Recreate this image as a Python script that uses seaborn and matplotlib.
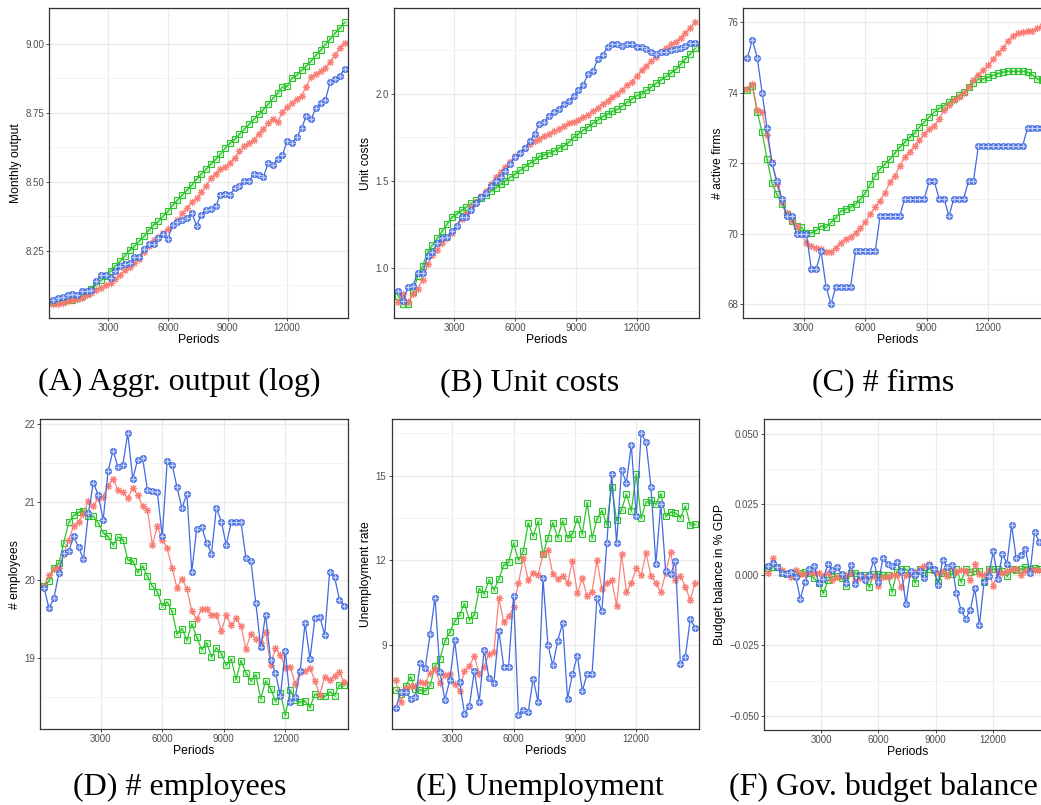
import matplotlib
matplotlib.use("Agg")
import matplotlib.pyplot as plt
import seaborn as sns
from matplotlib.ticker import FixedLocator, MultipleLocator, FuncFormatter

# simulation periods at which the averages were recorded
periods = list(range(240, 14881, 240))

# (A) aggregate output (log)
output_blue = [8.071, 8.077, 8.083, 8.089, 8.093, 8.090, 8.105, 8.105, 8.107, 8.141,
               8.161, 8.161, 8.151, 8.177, 8.195, 8.203, 8.204, 8.227, 8.227, 8.255,
               8.273, 8.273, 8.297, 8.309, 8.293, 8.345, 8.353, 8.361, 8.369, 8.387,
               8.341, 8.381, 8.399, 8.403, 8.411, 8.453, 8.456, 8.453, 8.477, 8.483,
               8.501, 8.501, 8.529, 8.523, 8.517, 8.567, 8.561, 8.582, 8.597, 8.649,
               8.639, 8.663, 8.694, 8.739, 8.726, 8.768, 8.786, 8.798, 8.862, 8.874,
               8.882, 8.910]
output_red = [8.056, 8.058, 8.062, 8.066, 8.070, 8.074, 8.080, 8.088, 8.097, 8.108,
              8.116, 8.124, 8.132, 8.146, 8.162, 8.180, 8.192, 8.204, 8.220, 8.245,
              8.268, 8.288, 8.300, 8.314, 8.327, 8.342, 8.360, 8.385, 8.405, 8.425,
              8.440, 8.462, 8.485, 8.512, 8.530, 8.545, 8.552, 8.568, 8.588, 8.610,
              8.630, 8.640, 8.650, 8.675, 8.692, 8.712, 8.728, 8.718, 8.752, 8.772,
              8.785, 8.800, 8.812, 8.845, 8.880, 8.892, 8.900, 8.912, 8.935, 8.960,
              8.985, 9.005]
output_green = [8.065, 8.066, 8.068, 8.070, 8.073, 8.078, 8.087, 8.098, 8.112, 8.127,
                8.142, 8.160, 8.178, 8.195, 8.212, 8.232, 8.254, 8.266, 8.285, 8.302,
                8.325, 8.345, 8.356, 8.375, 8.393, 8.415, 8.433, 8.452, 8.470, 8.488,
                8.510, 8.528, 8.545, 8.565, 8.582, 8.600, 8.622, 8.640, 8.656, 8.672,
                8.690, 8.708, 8.726, 8.744, 8.762, 8.782, 8.802, 8.822, 8.844, 8.846,
                8.877, 8.888, 8.905, 8.920, 8.938, 8.958, 8.978, 8.998, 9.018, 9.038,
                9.058, 9.078]

# (B) unit costs
costs_blue = [0.868, 0.811, 0.887, 0.896, 0.972, 0.972, 1.066, 1.089, 1.142, 1.170,
              1.179, 1.208, 1.242, 1.289, 1.292, 1.334, 1.374, 1.406, 1.430, 1.468,
              1.500, 1.523, 1.557, 1.594, 1.638, 1.660, 1.689, 1.726, 1.770, 1.826,
              1.840, 1.874, 1.896, 1.915, 1.943, 1.957, 1.987, 2.019, 2.051, 2.113,
              2.132, 2.198, 2.221, 2.268, 2.287, 2.283, 2.277, 2.283, 2.283, 2.268,
              2.270, 2.255, 2.240, 2.226, 2.242, 2.240, 2.249, 2.255, 2.264, 2.274,
              2.292, 2.289]
costs_red = [0.80, 0.85, 0.80, 0.85, 0.88, 0.93, 1.02, 1.07, 1.10, 1.14,
             1.17, 1.20, 1.24, 1.28, 1.31, 1.35, 1.38, 1.41, 1.44, 1.48,
             1.52, 1.55, 1.58, 1.61, 1.64, 1.66, 1.69, 1.71, 1.73, 1.74,
             1.755, 1.77, 1.785, 1.80, 1.815, 1.83, 1.84, 1.85, 1.865, 1.88,
             1.90, 1.92, 1.94, 1.96, 1.98, 2.00, 2.02, 2.05, 2.07, 2.10,
             2.135, 2.16, 2.19, 2.21, 2.24, 2.26, 2.285, 2.30, 2.32, 2.35,
             2.38, 2.41]
costs_green = [0.84, 0.79, 0.79, 0.86, 0.95, 1.01, 1.09, 1.13, 1.17, 1.21,
               1.25, 1.29, 1.31, 1.33, 1.35, 1.37, 1.39, 1.40, 1.42, 1.44,
               1.46, 1.48, 1.50, 1.52, 1.54, 1.56, 1.58, 1.60, 1.62, 1.64,
               1.65, 1.66, 1.67, 1.69, 1.70, 1.72, 1.75, 1.77, 1.79, 1.81,
               1.83, 1.85, 1.87, 1.885, 1.90, 1.91, 1.93, 1.95, 1.97, 1.99,
               2.00, 2.02, 2.04, 2.06, 2.08, 2.10, 2.12, 2.14, 2.17, 2.20,
               2.23, 2.26]

# (C) number of active firms
firms_blue = [75.0, 75.5, 75.0, 74.0, 73.0, 72.0, 71.5, 71.0, 70.5, 70.5,
              70.0, 70.0, 70.0, 69.0, 69.0, 69.5, 68.5, 68.0, 68.5, 68.5,
              68.5, 68.5, 69.5, 69.5, 69.5, 69.5, 69.5, 70.5, 70.5, 70.5,
              70.5, 70.5, 71.0, 71.0, 71.0, 71.0, 71.0, 71.5, 71.5, 71.0,
              71.0, 70.5, 71.0, 71.0, 71.0, 71.5, 71.5, 72.5, 72.5, 72.5,
              72.5, 72.5, 72.5, 72.5, 72.5, 72.5, 72.5, 73.0, 73.0, 73.0,
              73.0, 73.0]
firms_red = [74.12, 74.26, 73.50, 73.45, 72.79, 72.03, 71.41, 70.91, 70.60, 70.37,
             70.22, 69.98, 69.75, 69.65, 69.60, 69.56, 69.49, 69.49, 69.60, 69.75,
             69.84, 69.92, 70.03, 70.15, 70.34, 70.56, 70.75, 70.94, 71.17, 71.46,
             71.65, 71.93, 72.17, 72.31, 72.50, 72.65, 72.84, 72.96, 73.07, 73.26,
             73.50, 73.66, 73.79, 73.88, 74.00, 74.17, 74.36, 74.52, 74.64, 74.78,
             74.95, 75.14, 75.26, 75.47, 75.61, 75.69, 75.73, 75.75, 75.76, 75.83,
             75.90, 76.00]
firms_green = [74.07, 74.20, 73.45, 72.88, 72.12, 71.44, 71.12, 70.84, 70.56, 70.37,
               70.22, 70.18, 70.03, 70.03, 70.10, 70.22, 70.18, 70.32, 70.46, 70.65,
               70.70, 70.77, 70.85, 70.98, 71.17, 71.41, 71.65, 71.84, 71.98, 72.12,
               72.29, 72.46, 72.60, 72.74, 72.86, 73.03, 73.17, 73.31, 73.45, 73.57,
               73.64, 73.74, 73.83, 73.93, 74.02, 74.17, 74.28, 74.40, 74.40, 74.45,
               74.50, 74.55, 74.59, 74.61, 74.61, 74.61, 74.61, 74.59, 74.50, 74.40,
               74.36, 74.35]

# (D) employees per firm
employees_blue = [19.90, 19.64, 19.77, 20.09, 20.35, 20.37, 20.56, 20.42, 20.27, 20.86,
                  21.25, 21.09, 20.77, 21.40, 21.66, 21.45, 21.48, 21.88, 21.30, 21.54,
                  21.57, 21.15, 21.14, 21.13, 20.56, 21.52, 21.48, 21.19, 20.92, 21.11,
                  20.11, 20.66, 20.68, 20.48, 20.34, 20.93, 20.75, 20.45, 20.74, 20.74,
                  20.74, 20.28, 20.25, 19.71, 19.14, 19.56, 18.98, 18.81, 18.52, 19.09,
                  18.44, 18.50, 18.83, 19.45, 18.99, 19.51, 19.53, 19.30, 20.10, 20.04,
                  19.75, 19.67]
employees_red = [19.93, 20.06, 20.14, 20.15, 20.34, 20.52, 20.69, 20.75, 20.85, 21.02,
                 20.95, 21.05, 21.07, 21.21, 21.30, 21.15, 21.13, 21.05, 21.18, 21.09,
                 20.95, 20.90, 20.45, 20.69, 20.52, 20.41, 20.15, 19.90, 20.02, 19.89,
                 19.61, 19.50, 19.63, 19.63, 19.55, 19.56, 19.35, 19.55, 19.42, 19.51,
                 19.41, 19.12, 19.31, 19.25, 19.20, 19.33, 18.91, 19.13, 19.04, 18.88,
                 18.89, 18.67, 18.82, 18.84, 18.88, 18.71, 18.53, 18.76, 18.72, 18.77,
                 18.82, 18.69]
employees_green = [19.93, 19.99, 20.15, 20.22, 20.48, 20.74, 20.83, 20.87, 20.89, 20.82,
                   20.82, 20.73, 20.61, 20.56, 20.45, 20.55, 20.52, 20.26, 20.25, 20.10,
                   20.18, 20.05, 19.92, 19.85, 19.67, 19.72, 19.60, 19.31, 19.38, 19.23,
                   19.44, 19.27, 19.11, 19.20, 19.02, 19.13, 19.06, 18.91, 18.99, 18.73,
                   18.97, 18.81, 18.71, 18.79, 18.48, 18.71, 18.61, 18.45, 18.56, 18.27,
                   18.59, 18.46, 18.44, 18.45, 18.37, 18.54, 18.51, 18.51, 18.57, 18.52,
                   18.66, 18.66]

# (E) unemployment rate
unemp_blue = [6.74, 7.32, 7.32, 7.08, 7.15, 8.33, 8.18, 9.38, 10.67, 8.02,
              7.04, 7.73, 9.15, 7.68, 6.55, 6.82, 8.06, 6.96, 8.82, 7.80,
              7.65, 9.49, 8.21, 8.21, 10.74, 6.49, 6.68, 6.62, 7.79, 6.96,
              11.35, 9.00, 8.26, 9.14, 9.76, 7.08, 7.94, 8.61, 7.35, 7.96,
              7.96, 10.65, 10.18, 12.59, 15.05, 12.60, 15.20, 14.75, 16.10, 13.55,
              16.50, 16.20, 14.60, 11.85, 14.00, 11.60, 11.50, 11.95, 8.30, 8.55,
              9.90, 9.60]
unemp_red = [7.74, 6.96, 7.44, 7.51, 7.53, 7.67, 7.62, 8.00, 8.12, 7.65,
             7.92, 7.94, 7.59, 7.35, 8.06, 8.24, 8.59, 7.96, 8.21, 8.65,
             8.74, 10.65, 9.80, 10.00, 10.32, 11.18, 12.08, 11.29, 11.55, 11.47,
             12.21, 12.35, 11.50, 11.33, 11.45, 11.18, 11.96, 10.82, 11.35, 10.71,
             10.88, 12.00, 10.98, 11.20, 11.29, 10.38, 12.21, 10.88, 11.18, 11.71,
             11.47, 12.24, 11.45, 11.20, 10.85, 11.55, 12.29, 11.29, 11.45, 11.06,
             10.59, 11.18]
unemp_green = [7.39, 7.24, 7.51, 7.86, 7.41, 7.39, 7.35, 7.55, 8.24, 8.49,
               9.12, 9.44, 9.82, 10.06, 10.45, 9.88, 10.06, 10.98, 10.80, 11.29,
               10.94, 11.33, 11.82, 11.94, 12.59, 12.00, 12.32, 13.32, 12.86, 13.38,
               12.20, 12.79, 13.33, 12.79, 13.39, 12.79, 12.94, 13.47, 12.94, 14.04,
               12.79, 13.45, 13.76, 13.27, 14.61, 13.41, 13.79, 14.33, 13.76, 15.04,
               13.49, 14.06, 14.12, 13.98, 14.35, 13.55, 13.71, 13.67, 13.51, 13.91,
               13.26, 13.27]

# (F) government budget balance in % of GDP
budget_blue = [0.0030, 0.0043, 0.0028, 0.0005, 0.0002, 0.0011, -0.0007, -0.0085, -0.0026, 0.0019,
               0.0031, -0.0028, -0.0014, 0.0038, 0.0017, 0.0026, 0.0002, -0.0028, 0.0035, -0.0031,
               0.0000, -0.0020, 0.0000, 0.0051, -0.0027, 0.0058, 0.0039, 0.0031, 0.0044, 0.0014,
               -0.0105, 0.0012, 0.0000, 0.0012, -0.0013, 0.0033, 0.0019, -0.0035, 0.0054, 0.0028,
               0.0034, -0.0064, -0.0125, -0.0155, -0.0125, -0.0048, -0.0178, -0.0025, -0.0004, 0.0083,
               -0.0014, 0.0073, 0.0040, 0.0176, 0.0058, 0.0069, 0.0093, 0.0007, 0.0151, 0.0117,
               0.0095, 0.0088]
budget_red = [0.0005, 0.0058, 0.0028, 0.0017, 0.0008, -0.0007, 0.0017, 0.0002, 0.0004, 0.0010,
              0.0008, 0.0007, -0.0005, 0.0005, -0.0019, -0.0007, -0.0005, -0.0001, 0.0005, -0.0021,
              -0.0012, -0.0007, -0.0007, -0.0005, -0.0039, -0.0007, -0.0007, 0.0000, -0.0002, -0.0043,
              0.0000, 0.0005, 0.0011, 0.0019, 0.0030, 0.0040, 0.0017, 0.0005, 0.0012, -0.0005,
              0.0028, 0.0011, 0.0017, 0.0014, -0.0019, 0.0038, 0.0002, -0.0001, 0.0017, -0.0040,
              0.0010, 0.0007, 0.0012, 0.0019, 0.0019, -0.0002, 0.0012, 0.0017, 0.0018, 0.0016,
              0.0015, 0.0018]
budget_green = [0.0025, 0.0028, 0.0028, 0.0008, 0.0003, 0.0005, 0.0000, 0.0007, 0.0010, 0.0005,
                -0.0013, -0.0028, -0.0066, -0.0020, -0.0007, -0.0005, -0.0010, -0.0040, 0.0007, 0.0007,
                -0.0001, -0.0001, -0.0043, 0.0002, 0.0002, -0.0002, -0.0001, -0.0060, 0.0011, 0.0019,
                0.0019, 0.0007, -0.0028, 0.0022, 0.0005, 0.0022, 0.0017, -0.0025, 0.0005, 0.0005,
                0.0002, 0.0019, -0.0025, 0.0019, 0.0011, 0.0012, 0.0014, -0.0026, 0.0019, 0.0019,
                0.0021, 0.0012, -0.0005, 0.0019, 0.0017, 0.0019, 0.0028, 0.0019, 0.0024, 0.0019,
                0.0020, 0.0021]

BLUE = "#4169E1"
RED = "#F8766D"
GREEN = "#2DC52D"

sns.set_theme(style="white")
plt.rcParams["font.family"] = ["Liberation Sans", "DejaVu Sans"]

W, H = 1041, 805
fig = plt.figure(figsize=(W / 100, H / 100), dpi=100)

# panel boxes in pixels: left, top, width, height
panels = [
    dict(box=(49.3, 8.3, 299.0, 310.0), series=(output_blue, output_red, output_green),
         ylabel="Monthly output", yticks=[8.25, 8.50, 8.75, 9.00], minor=0.125, fmt="{:.2f}",
         caption="(A) Aggr. output (log)", cx=179),
    dict(box=(394.3, 8.3, 304.7, 310.0), series=(costs_blue, costs_red, costs_green),
         ylabel="Unit costs", yticks=[1.0, 1.5, 2.0], minor=0.25, fmt="{:.1f}",
         caption="(B) Unit costs", cx=530),
    dict(box=(743.3, 8.3, 307.8, 310.0), series=(firms_blue, firms_red, firms_green),
         ylabel="# active firms", yticks=[68, 70, 72, 74, 76], minor=1, fmt="{:.0f}",
         caption="(C) # firms", cx=883),
    dict(box=(40.0, 419.3, 308.3, 310.0), series=(employees_blue, employees_red, employees_green),
         ylabel="# employees", yticks=[19, 20, 21, 22], minor=0.5, fmt="{:.0f}",
         caption="(D) # employees", cx=180),
    dict(box=(391.7, 419.3, 307.3, 310.0), series=(unemp_blue, unemp_red, unemp_green),
         ylabel="Unemployment rate", yticks=[9, 12, 15], minor=1.5, fmt="{:.0f}",
         caption="(E) Unemployment", cx=540),
    dict(box=(764.3, 419.3, 287.7, 311.0), series=(budget_blue, budget_red, budget_green),
         ylabel="Budget balance in % GDP", yticks=[-0.05, -0.025, 0.0, 0.025, 0.05], minor=0.0125,
         fmt="{:.3f}", caption="(F) Gov. budget balance", cx=883, ylim=(-0.0551, 0.0551)),
]

for p in panels:
    l, t, w, h = p["box"]
    ax = fig.add_axes([l / W, 1 - (t + h) / H, w / W, h / H])
    blue, red, green = p["series"]

    sns.lineplot(x=periods, y=green, ax=ax, color=GREEN, linewidth=0.9, marker="s",
                 markersize=4.0, markerfacecolor="none", markeredgecolor=GREEN,
                 markeredgewidth=0.8, errorbar=None)
    ax.plot(periods, green, ls="none", marker="x", markersize=2.8, markeredgewidth=0.45,
            color=GREEN, alpha=0.7)
    sns.lineplot(x=periods, y=red, ax=ax, color=RED, linewidth=0.9, marker=(8, 2, 0),
                 markersize=5.2, markeredgecolor=RED, markeredgewidth=0.8, alpha=0.9,
                 errorbar=None)
    sns.lineplot(x=periods, y=blue, ax=ax, color=BLUE, linewidth=0.9, marker="o",
                 markersize=4.2, markerfacecolor="#7694EA", markeredgecolor=BLUE,
                 markeredgewidth=0.8, errorbar=None)
    ax.plot(periods, blue, ls="none", marker="+", markersize=3.8, markeredgewidth=0.6,
            color="#C9D5F7")

    ax.set_xlim(40, 15070)
    if "ylim" in p:
        ax.set_ylim(*p["ylim"])
    else:
        ax.margins(y=0.05)
    ax.xaxis.set_major_locator(FixedLocator([3000, 6000, 9000, 12000]))
    ax.yaxis.set_major_locator(FixedLocator(p["yticks"]))
    ax.yaxis.set_minor_locator(MultipleLocator(p["minor"]))
    fmt = p["fmt"]
    ax.yaxis.set_major_formatter(FuncFormatter(lambda v, pos, f=fmt: f.format(v).replace("-", "\u2212")))

    ax.set_axisbelow(True)
    ax.grid(True, which="major", color="#EBEBEB", linewidth=0.9)
    ax.grid(True, which="minor", axis="y", color="#F2F2F2", linewidth=0.6)
    ax.tick_params(which="major", length=2.2, width=0.6, color="#333333", labelsize=7,
                   labelcolor="#4D4D4D", pad=1.5, bottom=True, left=True)
    ax.tick_params(which="minor", length=0)
    for sp in ax.spines.values():
        sp.set_color("#333333")
        sp.set_linewidth(0.9)

    ax.set_xlabel("Periods", fontsize=8.7, labelpad=0.2, color="black")
    ax.set_ylabel(p["ylabel"], fontsize=8.7, labelpad=2.5, color="black")

    base = 390 if t < 100 else 795
    fig.text(p["cx"] / W, 1 - base / H, p["caption"], ha="center", va="baseline",
             fontsize=23, family=["Liberation Serif", "DejaVu Serif"], color="black")

fig.savefig("out.png", dpi=100)
